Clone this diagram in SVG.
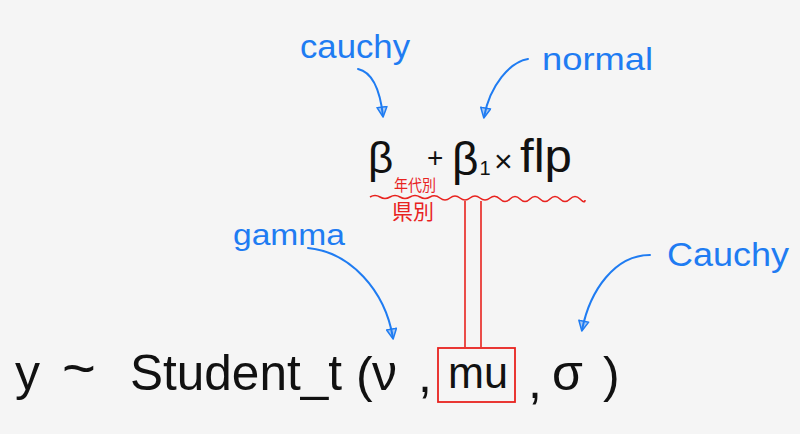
<svg xmlns="http://www.w3.org/2000/svg" width="800" height="434" viewBox="0 0 800 434">
<defs>
<style>
.blue{fill:#1f7cf2;font-family:"Liberation Sans","DejaVu Sans",sans-serif;}
.ink{fill:#111;font-family:"Liberation Sans","DejaVu Sans",sans-serif;}
.redt{fill:#e8231f;font-family:"Noto Sans CJK JP",sans-serif;}
.arr{fill:none;stroke:#1f7cf2;stroke-width:2;stroke-linecap:round;marker-end:url(#ah);}
.red{fill:none;stroke:#e8231f;stroke-width:1.6;}
</style>
<marker id="ah" viewBox="0 0 12 12" refX="10" refY="6" markerWidth="12" markerHeight="12" markerUnits="userSpaceOnUse" orient="auto">
<path d="M1,1 L11,6 L1,11 Z" fill="#1f7cf2" fill-opacity="0.35" stroke="#1f7cf2" stroke-width="1.5" stroke-linejoin="round"/>
</marker>
</defs>
<rect width="800" height="434" fill="#f5f5f5"/>
<g id="connectors">
<path class="arr" d="M358,69 C372,72 380,90 383,116"/>
<path class="arr" d="M528,59 C510,62 490,85 484,117"/>
<path class="arr" d="M308,248 C350,252 385,290 393,338"/>
<path class="arr" d="M650,255 C615,255 590,290 582,330"/>
<path class="red" d="M465,201 V347 M481,201 V347"/>
</g>
<g id="label-cauchy-top"><text class="blue" x="300" y="58" font-size="34" textLength="110" lengthAdjust="spacingAndGlyphs">cauchy</text></g>
<g id="label-normal"><text class="blue" x="542" y="70" font-size="32" textLength="111" lengthAdjust="spacingAndGlyphs">normal</text></g>
<g id="label-gamma"><text class="blue" x="233" y="245" font-size="30" textLength="112" lengthAdjust="spacingAndGlyphs">gamma</text></g>
<g id="label-cauchy-right"><text class="blue" x="667" y="266" font-size="34" textLength="122" lengthAdjust="spacingAndGlyphs">Cauchy</text></g>
<g id="linear-predictor">
<text class="ink" x="368" y="173" font-size="44">β</text>
<text class="ink" x="427" y="167" font-size="28">+</text>
<text class="ink" x="452" y="175" font-size="46">β<tspan font-size="20" dx="1">1</tspan></text>
<text class="ink" x="494" y="172" font-size="32">×</text>
<text class="ink" x="520" y="172" font-size="46" textLength="52" lengthAdjust="spacingAndGlyphs">flp</text>
<path class="red" d="M370,197 q5,-3 10,0 t10,0 t10,0 t10,0 t10,0 t10,0 t10,1 t10,0 t10,0 t10,0 t10,0 t10,0 t10,1 t10,0 t10,0 t10,0 t10,0 t10,0 t10,0 t10,0 t10,0 t5,1"/>
<text class="redt" x="394" y="191" font-size="16" textLength="42" lengthAdjust="spacingAndGlyphs">年代別</text>
<text class="redt" x="392" y="219" font-size="21">県別</text>
</g>
<g id="model">
<text class="ink" x="15" y="390" font-size="50">y</text>
<text class="ink" x="62" y="388" font-size="58">~</text>
<text class="ink" x="130" y="390" font-size="50" textLength="212" lengthAdjust="spacingAndGlyphs">Student_t</text>
<text class="ink" x="356" y="392" font-size="50">(</text>
<text class="ink" x="372" y="390" font-size="50">ν</text>
<text class="ink" x="418" y="392" font-size="50">,</text>
<text class="ink" x="528" y="398" font-size="50">,</text>
<text class="ink" x="552" y="390" font-size="50">σ</text>
<text class="ink" x="603" y="392" font-size="50">)</text>
</g>
<g id="mu">
<rect x="438" y="348" width="77" height="54" fill="none" stroke="#e8231f" stroke-width="1.8"/>
<text class="ink" x="448" y="388" font-size="44" textLength="60" lengthAdjust="spacingAndGlyphs">mu</text>
</g>
</svg>
